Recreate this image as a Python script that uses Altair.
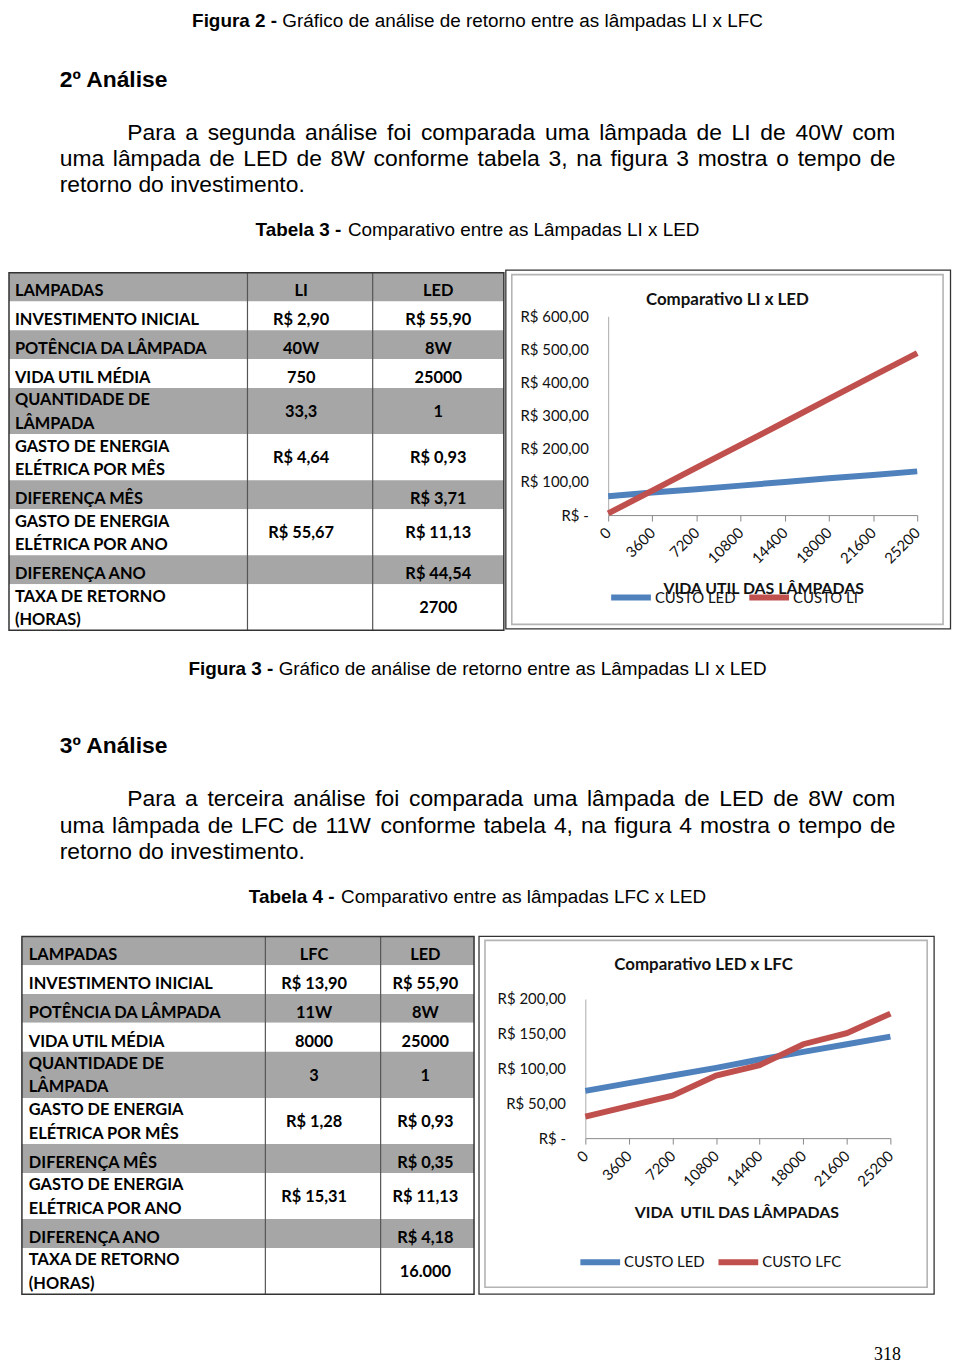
import altair as alt
import pandas as pd

# ------------------------------------------------------------------ content
fig2_bold, fig2_rest = "Figura 2 -", "Gráfico de análise de retorno entre as lâmpadas LI x LFC"
sec2_title = "2º Análise"
para2_lines = ["Para a segunda análise foi comparada uma lâmpada de LI de 40W com",
               "uma lâmpada de LED de 8W conforme tabela 3, na figura 3 mostra o tempo de",
               "retorno do investimento."]
tab3_bold, tab3_rest = "Tabela 3 -", "Comparativo entre as Lâmpadas LI x LED"
fig3_bold, fig3_rest = "Figura 3 -", "Gráfico de análise de retorno entre as Lâmpadas LI x LED"
sec3_title = "3º Análise"
para3_lines = ["Para a terceira análise foi comparada uma lâmpada de LED de 8W com",
               "uma lâmpada de LFC de 11W conforme tabela 4, na figura 4 mostra o tempo de",
               "retorno do investimento."]
tab4_bold, tab4_rest = "Tabela 4 -", "Comparativo entre as lâmpadas LFC x LED"
page_number = "318"

row_labels = [["LAMPADAS"], ["INVESTIMENTO INICIAL"], ["POTÊNCIA DA LÂMPADA"], ["VIDA UTIL MÉDIA"],
              ["QUANTIDADE DE", "LÂMPADA"], ["GASTO DE ENERGIA", "ELÉTRICA POR MÊS"], ["DIFERENÇA MÊS"],
              ["GASTO DE ENERGIA", "ELÉTRICA POR ANO"], ["DIFERENÇA ANO"], ["TAXA DE RETORNO", "(HORAS)"]]
t3_li = ["LI", "R$ 2,90", "40W", "750", "33,3", "R$ 4,64", "", "R$ 55,67", "", ""]
t3_led = ["LED", "R$ 55,90", "8W", "25000", "1", "R$ 0,93", "R$ 3,71", "R$ 11,13", "R$ 44,54", "2700"]
t4_lfc = ["LFC", "R$ 13,90", "11W", "8000", "3", "R$ 1,28", "", "R$ 15,31", "", ""]
t4_led = ["LED", "R$ 55,90", "8W", "25000", "1", "R$ 0,93", "R$ 0,35", "R$ 11,13", "R$ 4,18", "16.000"]

hours = [0, 3600, 7200, 10800, 14400, 18000, 21600, 25200]
c3_title = "Comparativo LI x LED"
c3_names = ["CUSTO LED", "CUSTO LI"]
c3_led = [57, 68, 78, 89, 100, 111, 121, 132]
c3_li = [5, 74, 143, 212, 281, 351, 420, 489]
c4_title = "Comparativo LED x LFC"
c4_names = ["CUSTO LED", "CUSTO LFC"]
c4_led = [68, 79, 90, 101, 113, 124, 135, 146]
c4_lfc = [31, 46, 61, 90, 105, 135, 151, 179]
x_title3 = "VIDA UTIL DAS LÂMPADAS"
x_title4 = "VIDA\u00a0 UTIL DAS LÂMPADAS"

BLUE, RED = "#4F81BD", "#C0504D"
GRAY = "#a6a6a6"

# ------------------------------------------------------------------ Arial metrics (Liberation Sans)
_R = {c: 556 for c in "0123456789"}
_R.update({' ': 278, ',': 278, '.': 278, '-': 333, 'º': 365, ':': 278})
for c, w in zip("ABCDEFGHIJKLMNOPQRSTUVWXYZ",
                [667, 667, 722, 722, 667, 611, 778, 722, 278, 500, 667, 556, 833, 722, 778, 667, 778, 722, 667,
                 611, 722, 667, 944, 667, 667, 611]):
    _R[c] = w
for c, w in zip("abcdefghijklmnopqrstuvwxyz",
                [556, 556, 500, 556, 556, 278, 556, 556, 222, 222, 500, 222, 833, 556, 556, 556, 556, 333, 500,
                 278, 556, 500, 722, 500, 500, 500]):
    _R[c] = w
_R.update({'á': 556, 'â': 556, 'ã': 556, 'é': 556, 'ê': 556, 'í': 278, 'ó': 556, 'ú': 556, 'ç': 500, 'Â': 667})
_B = dict(_R)
for c, w in zip("ABCDEFGHIJKLMNOPQRSTUVWXYZ",
                [722, 722, 722, 722, 667, 611, 778, 722, 278, 556, 722, 611, 833, 722, 778, 667, 778, 722, 667,
                 611, 722, 667, 944, 667, 667, 611]):
    _B[c] = w
for c, w in zip("abcdefghijklmnopqrstuvwxyz",
                [556, 611, 556, 611, 556, 333, 611, 611, 278, 278, 556, 278, 889, 611, 611, 611, 611, 389, 556,
                 333, 611, 556, 778, 556, 556, 500]):
    _B[c] = w


def tw(s, size, bold=False):
    m = _B if bold else _R
    return sum(m.get(ch, 556) for ch in s) * size / 1000.0


STYLES = {
    'body': ('Liberation Sans', 23, 'normal'),
    'head': ('Liberation Sans', 23, 'bold'),
    'capb': ('Liberation Sans', 19, 'bold'),
    'capr': ('Liberation Sans', 19, 'normal'),
    'pnum': ('Liberation Serif', 18, 'normal'),
    'tab': ('Lato', 16.5, 'bold'),
}


def justified(line, x0, x1, y):
    size = STYLES['body'][1]
    words = line.split(' ')
    widths = [tw(w, size) for w in words]
    gap = (x1 - x0 - sum(widths)) / (len(words) - 1)
    out, x = [], x0
    for w, wd in zip(words, widths):
        out.append(('body', w, x, y, 'left'))
        x += wd + gap
    return out


def caption(bold, rest, cx, y):
    size = STYLES['capb'][1]
    wb = tw(bold + ' ', size, True)
    wr = tw(rest, size)
    x0 = cx - (wb + wr) / 2
    return [('capb', bold, x0, y, 'left'), ('capr', rest, x0 + wb, y, 'left')]


def paragraph(lines, indent_x, left_x, right_x, y0, lh):
    out = []
    for i, ln in enumerate(lines):
        y = y0 + i * lh
        if i < len(lines) - 1:
            out += justified(ln, indent_x if i == 0 else left_x, right_x, y)
        else:
            out.append(('body', ln, left_x, y, 'left'))
    return out


def text_layers(items):
    df = pd.DataFrame(items, columns=['style', 'text', 'x', 'y', 'align'])
    layers = []
    for style, (font, size, weight) in STYLES.items():
        for align in ['left', 'center']:
            sub = df[(df['style'] == style) & (df['align'] == align)]
            if len(sub) == 0:
                continue
            layers.append(alt.Chart(sub).mark_text(
                font=font, fontSize=size, fontWeight=weight, align=align, baseline='middle',
                color='#000', clip=True).encode(
                x=alt.X('x:Q', scale=None, axis=None),
                y=alt.Y('y:Q', scale=None, axis=None),
                text='text:N'))
    return layers


def text_panel(items, w, h):
    return alt.layer(*text_layers(items)).properties(width=w, height=h)


# ------------------------------------------------------------------ tables
def table_panel(labels, va, vb, w, h, x_edges, top, centers, label_x):
    y = top
    rects, items = [], []
    for i, lab in enumerate(labels):
        rh = 29 if len(lab) == 1 else 46.5
        c = y + rh / 2
        rects.append({'x': x_edges[0], 'x2': x_edges[-1], 'y': y, 'y2': y + rh,
                      'fill': GRAY if i % 2 == 0 else '#ffffff'})
        if len(lab) == 1:
            items.append(('tab', lab[0], label_x, c + 4.5, 'left'))
            vy = c + 4.5
        else:
            items.append(('tab', lab[0], label_x, c - 10.6, 'left'))
            items.append(('tab', lab[1], label_x, c + 12.7, 'left'))
            vy = c + 1
        if va[i]:
            items.append(('tab', va[i], centers[0], vy, 'center'))
        if vb[i]:
            items.append(('tab', vb[i], centers[1], vy, 'center'))
        y += rh
    bottom = y
    rdf = pd.DataFrame(rects)
    rows = alt.Chart(rdf).mark_rect(strokeWidth=0).encode(
        x=alt.X('x:Q', scale=None, axis=None), x2='x2:Q',
        y=alt.Y('y:Q', scale=None, axis=None), y2='y2:Q',
        color=alt.Color('fill:N', scale=None))
    vdf = pd.DataFrame({'x': x_edges[1:-1], 'y': [top] * (len(x_edges) - 2), 'y2': [bottom] * (len(x_edges) - 2)})
    vlines = alt.Chart(vdf).mark_rule(color='#555', strokeWidth=1.2).encode(
        x=alt.X('x:Q', scale=None, axis=None),
        y=alt.Y('y:Q', scale=None, axis=None), y2='y2:Q')
    border = alt.Chart(alt.Data(values=[{}])).mark_rect(fillOpacity=0, stroke='#333', strokeWidth=1.5).encode(
        x=alt.value(x_edges[0]), x2=alt.value(x_edges[-1]), y=alt.value(top), y2=alt.value(bottom))
    return alt.layer(rows, vlines, border, *text_layers(items)).properties(width=w, height=h)


# ------------------------------------------------------------------ line charts
def chart_panel(w, h, title, title_xy, names, s1, s2, ymax, ystep, px, py, axis_title, axis_title_xy,
                legend_xy, frame_out, frame_in):
    df = pd.DataFrame({'hours': hours * 2, 'cost': s1 + s2,
                       'series': [names[0]] * len(hours) + [names[1]] * len(hours)})
    yvals = list(range(0, ymax + 1, ystep))
    label_expr = "datum.value == 0 ? 'R$ -' : 'R$ ' + replace(format(datum.value, '.2f'), '.', ',')"
    lines = alt.Chart(df).mark_line(strokeWidth=6).encode(
        x=alt.X('hours:Q',
                scale=alt.Scale(domain=[0, 25200], range=[px[0], px[1]], nice=False, zero=False),
                axis=alt.Axis(values=hours, labelAngle=315, labelAlign='right', labelBaseline='middle',
                              labelFont='Lato', labelFontSize=15, labelColor='#111', labelPadding=9,
                              labelOverlap=False, labelFlush=False, format='d',
                              tickSize=6, tickColor='#888', domainColor='#888', grid=False,
                              offset=py[0] - h,
                              title=axis_title, titleFont='Lato', titleFontSize=16, titleFontWeight='bold',
                              titleColor='#111', titleX=axis_title_xy[0], titleY=axis_title_xy[1] - py[0],
                              titleAlign='center', titleBaseline='middle')),
        y=alt.Y('cost:Q',
                scale=alt.Scale(domain=[0, ymax], range=[py[0], py[1]], nice=False, zero=False),
                axis=alt.Axis(values=yvals, labelExpr=label_expr, labelFont='Lato', labelFontSize=15,
                              labelColor='#111', labelPadding=20, ticks=False, tickSize=0,
                              domainColor='#aaa', grid=False, offset=-px[0], title=None)),
        color=alt.Color('series:N', scale=alt.Scale(domain=names, range=[BLUE, RED]),
                        legend=alt.Legend(orient='none', legendX=legend_xy[0], legendY=legend_xy[1],
                                          direction='horizontal', symbolType='stroke', symbolStrokeWidth=6,
                                          symbolSize=1600, labelFont='Lato', labelFontSize=15,
                                          labelColor='#111', labelOffset=1, columnPadding=1, title=None,
                                          padding=0)))
    fo = alt.Chart(alt.Data(values=[{}])).mark_rect(fillOpacity=0, stroke='#333', strokeWidth=1.3).encode(
        x=alt.value(frame_out[0]), x2=alt.value(frame_out[1]), y=alt.value(frame_out[2]),
        y2=alt.value(frame_out[3]))
    fi = alt.Chart(alt.Data(values=[{}])).mark_rect(fillOpacity=0, stroke='#b4b4b4', strokeWidth=1.6).encode(
        x=alt.value(frame_in[0]), x2=alt.value(frame_in[1]), y=alt.value(frame_in[2]),
        y2=alt.value(frame_in[3]))
    ttl = alt.Chart(alt.Data(values=[{}])).mark_text(
        text=title, font='Lato', fontSize=17, fontWeight='bold', align='center', baseline='middle',
        color='#111').encode(x=alt.value(title_xy[0]), y=alt.value(title_xy[1]))
    return alt.layer(fo, fi, lines, ttl).properties(width=w, height=h)


INDEP = alt.Resolve(scale=alt.ScaleResolveMap(color='independent'),
                    legend=alt.LegendResolveMap(color='independent'))

# ------------------------------------------------------------------ layout (panel coords = page - 8 / row top)
CX = 472.5
row1_items = (caption(fig2_bold, fig2_rest, CX, 9)
              + [('head', sec2_title, 52, 68, 'left')]
              + paragraph(para2_lines, 120, 52, 893, 122, 26)
              + caption(tab3_bold, tab3_rest, CX, 219))
row1 = text_panel(row1_items, 950, 258)

table3 = table_panel(row_labels, t3_li, t3_led, 500, 368, [1, 241, 367, 499], 4, [295, 433], 7)
chart3 = chart_panel(450, 368, c3_title, (224, 32), c3_names, c3_led, c3_li, 600, 100,
                     (104, 415), (248, 48), x_title3, (260, 322), (104, 308),
                     (1, 448.5, 1.5, 362.5), (7, 441, 6, 358))
row2 = alt.hconcat(table3, chart3, spacing=0, bounds='flush', resolve=INDEP)

row3_items = (caption(fig3_bold, fig3_rest, CX, 35)
              + [('head', sec3_title, 52, 112, 'left')]
              + paragraph(para3_lines, 120, 52, 893, 166, 26.5)
              + caption(tab4_bold, tab4_rest, CX, 264))
row3 = text_panel(row3_items, 950, 302)

table4 = table_panel(row_labels, t4_lfc, t4_led, 472, 364, [14, 259, 375, 469], 2, [308, 420], 21)
chart4 = chart_panel(478, 364, c4_title, (228, 31), c4_names, c4_led, c4_lfc, 200, 50,
                     (109, 416), (205, 65), x_title4, (261, 280), (101, 307),
                     (2, 460, 2, 362), (8, 453, 6, 355))
row4 = alt.hconcat(table4, chart4, spacing=0, bounds='flush', resolve=INDEP)

row5 = text_panel([('pnum', page_number, 885, 59, 'center')], 950, 65)

chart = alt.vconcat(row1, row2, row3, row4, row5, spacing=0, bounds='full', resolve=INDEP).properties(
    padding=0, background='white').configure_view(strokeWidth=0)

chart.save("out.html", embed_options={"renderer": "svg", "actions": False})
